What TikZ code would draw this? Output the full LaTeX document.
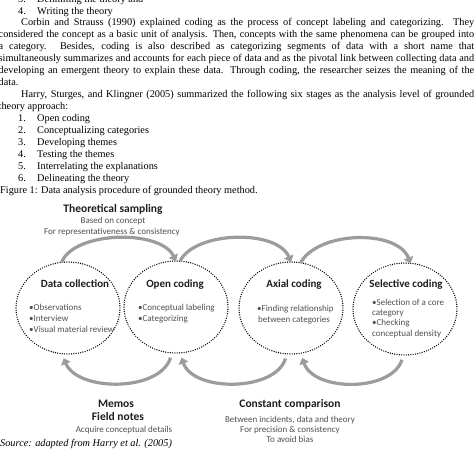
\documentclass[tikz,border=0pt]{standalone}
\usepackage{fontspec}
\setmainfont{Liberation Serif}
\newfontfamily\diagfont{Carlito}
\usetikzlibrary{arrows.meta,shapes.geometric,calc}
\definecolor{txtdark}{HTML}{1E1E1E}
\definecolor{txtgray}{HTML}{505050}
\definecolor{arrowgray}{HTML}{9C9C9C}
\newcommand\jline[1]{\makebox[475.5pt][s]{#1}}
\newcommand\numitem[2]{\makebox[19pt][l]{#1}#2}
\begin{document}
\begin{tikzpicture}[x=1pt,y=-1pt,
  body/.style={anchor=base west,inner sep=0pt,font=\fontsize{10.3}{12}\selectfont,text=black},
  dtitle/.style={anchor=base,inner sep=0pt,font=\diagfont\bfseries\fontsize{11.5}{13}\selectfont,text=txtdark},
  dsub/.style={anchor=base,inner sep=0pt,font=\diagfont\fontsize{9}{11}\selectfont,text=txtgray},
  ctitle/.style={anchor=base,inner sep=0pt,font=\diagfont\bfseries\fontsize{11}{13}\selectfont,text=txtdark},
  cbul/.style={anchor=base west,inner sep=0pt,font=\diagfont\fontsize{9}{11}\selectfont,text=txtgray},
  stagebox/.style={ellipse,draw=black,line width=1.4pt,dash pattern=on 0pt off 2.3pt,line cap=round,
    minimum width=104pt,minimum height=92pt,inner sep=0pt,outer sep=0pt},
  flow/.style={draw=arrowgray,line width=3.2pt,-{Triangle[length=6pt,width=10pt]}},
]
\useasboundingbox (0,0) rectangle (474,448);
\fill[white] (0,0) rectangle (474,448);

% ---- body text ----
\node[body] (l0) at (18,2.05) {\numitem{5.}{Delimiting the theory and}};
\node[body] (l1) at (18,14) {\numitem{4.}{Writing the theory}};
\node[body] (l2) at (21,25.95) {\makebox[453pt][s]{Corbin and Strauss (1990) explained coding as the process of concept labeling and categorizing. They}};
\node[body] (l3) at (-1.5,37.9) {\jline{considered the concept as a basic unit of analysis. Then, concepts with the same phenomena can be grouped into}};
\node[body] (l4) at (-1.5,49.85) {\jline{a category. Besides, coding is also described as categorizing segments of data with a short name that}};
\node[body] (l5) at (-1.5,61.8) {\jline{simultaneously summarizes and accounts for each piece of data and as the pivotal link between collecting data and}};
\node[body] (l6) at (-1.5,73.75) {\jline{developing an emergent theory to explain these data. Through coding, the researcher seizes the meaning of the}};
\node[body] (l7) at (-1.5,85.7) {data.};
\node[body] (l8) at (21,97.65) {\makebox[453pt][s]{Harry, Sturges, and Klingner (2005) summarized the following six stages as the analysis level of grounded}};
\node[body] (l9) at (-1.5,109.6) {theory approach:};
\node[body] (l10) at (18,121.55) {\numitem{1.}{Open coding}};
\node[body] (l11) at (18,133.5) {\numitem{2.}{Conceptualizing categories}};
\node[body] (l12) at (18,145.45) {\numitem{3.}{Developing themes}};
\node[body] (l13) at (18,157.4) {\numitem{4.}{Testing the themes}};
\node[body] (l14) at (18,169.35) {\numitem{5.}{Interrelating the explanations}};
\node[body] (l15) at (18,181.3) {\numitem{6.}{Delineating the theory}};
\node[body] (l16) at (0,193.25) {Figure 1: Data analysis procedure of grounded theory method.};

% ---- diagram top text ----
\node[dtitle] (ts) at (113,212) {Theoretical sampling};
\node[dsub] (ts1) at (113,223) {Based on concept};
\node[dsub] (ts2) at (112,234) {For representativeness \& consistency};

% ---- stages ----
\node[stagebox] (dc) at (68,308) {};
\node[stagebox] (oc) at (176,307) {};
\node[stagebox] (ac) at (291,308) {};
\node[stagebox] (sc) at (405,309) {};

\node[ctitle] (dct) at (75,287) {Data collection};
\node[cbul] (dc1) at (29,310) {•Observations};
\node[cbul] (dc2) at (29,321) {•Interview};
\node[cbul] (dc3) at (29,332) {•Visual material review};

\node[ctitle] (oct) at (175,287) {Open coding};
\node[cbul] (oc1) at (138,310) {•Conceptual labeling};
\node[cbul] (oc2) at (138,321) {•Categorizing};

\node[ctitle] (act) at (294,287) {Axial coding};
\node[cbul] (ac1) at (257,311) {•Finding relationship};
\node[cbul] (ac2) at (258,322) {between categories};

\node[ctitle] (sct) at (406,287) {Selective coding};
\node[cbul] (sc1) at (372,305) {•Selection of a core};
\node[cbul] (sc2) at (372,315) {category};
\node[cbul] (sc3) at (372,325) {•Checking};
\node[cbul] (sc4) at (372,336) {conceptual density};

% ---- arrows ----
\draw[flow] (dc.98) .. controls (74,231) and (160,229) .. (oc.north);
\draw[flow] (oc.85) .. controls (195,231) and (277,229) .. (ac.north);
\draw[flow] (ac.78) .. controls (318,231) and (397,229) .. (sc.83);

\draw[flow,shorten <=5pt,shorten >=5pt] (oc.265) .. controls (160,392) and (78,392) .. (dc.262);
\draw[flow,shorten <=5pt,shorten >=5pt] (ac.265) .. controls (275,392) and (193,392) .. (oc.275);
\draw[flow,shorten <=5pt,shorten >=5pt] (sc.268) .. controls (392,392) and (314,392) .. (ac.282);

% ---- bottom text ----
\node[dtitle] (mm) at (116,407) {Memos};
\node[dtitle] (fn) at (118,420) {Field notes};
\node[dsub] (mm1) at (124,432) {Acquire conceptual details};
\node[dtitle] (cc) at (290,407) {Constant comparison};
\node[dsub] (cc1) at (290,422) {Between incidents, data and theory};
\node[dsub] (cc2) at (290,432) {For precision \& consistency};
\node[dsub] (cc3) at (290,442) {To avoid bias};
\node[body,font=\fontsize{10.3}{12}\selectfont\itshape] (src) at (0,446) {Source: adapted from Harry et al. (2005)};
\end{tikzpicture}
\end{document}
